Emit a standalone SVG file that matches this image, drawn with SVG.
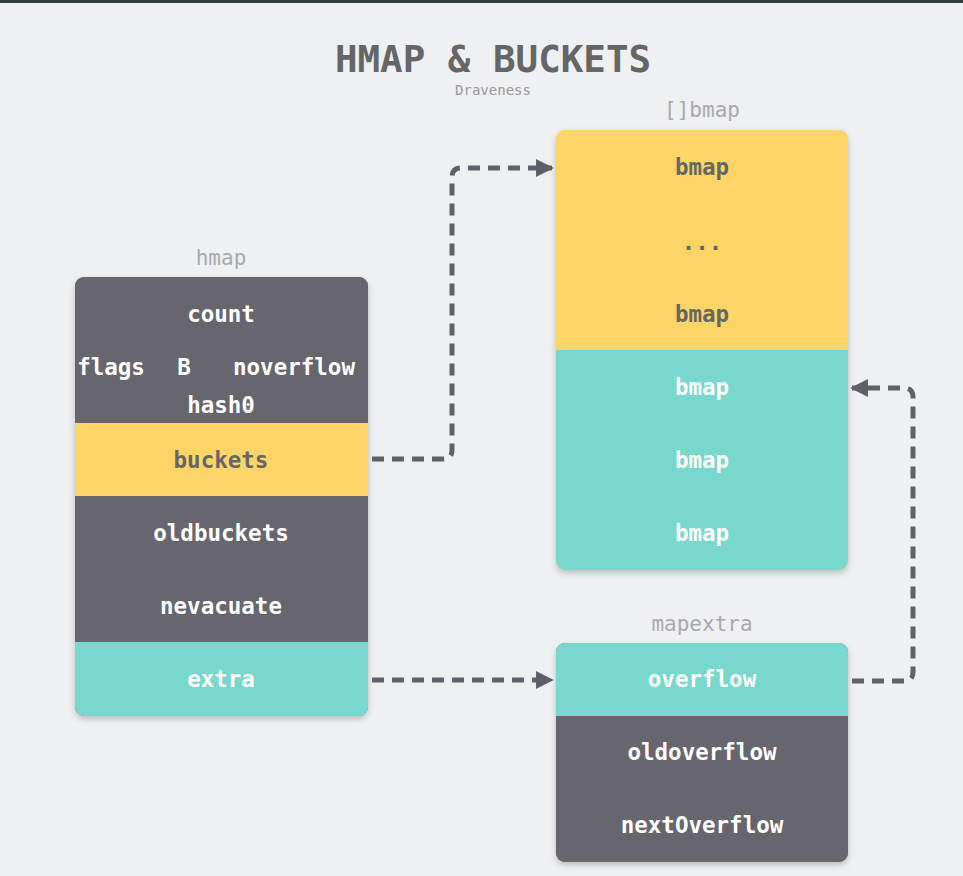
<svg xmlns="http://www.w3.org/2000/svg" width="963" height="876" viewBox="0 0 963 876">
<defs>
<style>
.t{font-family:"DejaVu Sans Mono","Liberation Mono",monospace;text-anchor:middle}
.f{font-size:22.5px;font-weight:bold}
.w{fill:#ffffff}
.d{fill:#666666}
.lbl{font-size:21px;fill:#a9a9ab}
.c{fill:none;stroke:#606068;stroke-width:5;stroke-dasharray:12 8}
</style>
<filter id="sh" x="-10%" y="-10%" width="120%" height="120%">
<feDropShadow dx="0" dy="3" stdDeviation="3" flood-color="#000" flood-opacity="0.22"/>
</filter>
<clipPath id="ch"><rect x="75" y="277" width="293" height="439" rx="9"/></clipPath>
<clipPath id="cb"><rect x="556" y="130" width="292" height="440" rx="9"/></clipPath>
<clipPath id="ce"><rect x="556" y="643" width="292" height="219" rx="9"/></clipPath>
<marker id="ah" viewBox="0 0 10 10" refX="9" refY="5" markerWidth="3.6" markerHeight="3.6" orient="auto" markerUnits="strokeWidth">
<path d="M0,0 L10,5 L0,10 z" fill="#606068"/>
</marker>
</defs>
<rect width="963" height="876" fill="#eff0f2"/>
<rect width="963" height="3" fill="#333d40"/>
<g id="title">
<text class="t" x="493" y="72" font-size="37.5" font-weight="bold" fill="#666666">HMAP &amp; BUCKETS</text>
<text class="t" x="493" y="95" font-size="14" fill="#9a9a9a">Draveness</text>
</g>
<g id="hmap">
<text class="t lbl" x="221" y="265">hmap</text>
<rect x="75" y="277" width="293" height="439" rx="9" fill="#67666f" filter="url(#sh)"/>
<g clip-path="url(#ch)">
<rect x="75" y="277" width="293" height="146" fill="#67666f"/>
<rect x="75" y="423" width="293" height="73" fill="#fcd566"/>
<rect x="75" y="496" width="293" height="146" fill="#67666f"/>
<rect x="75" y="642" width="293" height="74" fill="#78d8cb"/>
</g>
<text class="t f w" x="221" y="322">count</text>
<text class="t f w" x="111" y="375">flags</text>
<text class="t f w" x="184" y="375">B</text>
<text class="t f w" x="294" y="375">noverflow</text>
<text class="t f w" x="221" y="413">hash0</text>
<text class="t f d" x="221" y="468">buckets</text>
<text class="t f w" x="221" y="541">oldbuckets</text>
<text class="t f w" x="221" y="614">nevacuate</text>
<text class="t f w" x="221" y="687">extra</text>
</g>
<g id="bmaps">
<text class="t lbl" x="702" y="117">[]bmap</text>
<rect x="556" y="130" width="292" height="440" rx="9" fill="#fcd566" filter="url(#sh)"/>
<g clip-path="url(#cb)">
<rect x="556" y="130" width="292" height="220" fill="#fcd566"/>
<rect x="556" y="350" width="292" height="220" fill="#78d8cb"/>
</g>
<text class="t f d" x="702" y="175">bmap</text>
<text class="t f d" x="702" y="250">...</text>
<text class="t f d" x="702" y="322">bmap</text>
<text class="t f w" x="702" y="395">bmap</text>
<text class="t f w" x="702" y="468">bmap</text>
<text class="t f w" x="702" y="541">bmap</text>
</g>
<g id="mapextra">
<text class="t lbl" x="702" y="631">mapextra</text>
<rect x="556" y="643" width="292" height="219" rx="9" fill="#67666f" filter="url(#sh)"/>
<g clip-path="url(#ce)">
<rect x="556" y="643" width="292" height="73" fill="#78d8cb"/>
<rect x="556" y="716" width="292" height="146" fill="#67666f"/>
</g>
<text class="t f w" x="702" y="687">overflow</text>
<text class="t f w" x="702" y="760">oldoverflow</text>
<text class="t f w" x="702" y="833">nextOverflow</text>
</g>
<g id="connectors">
<path class="c" d="M372,459 H443 Q452,459 452,450 V177 Q452,168 461,168 H552" marker-end="url(#ah)"/>
<path class="c" d="M372,680 H552" marker-end="url(#ah)"/>
<path class="c" d="M852,681 H904 Q913,681 913,672 V397 Q913,388 904,388 H852" marker-end="url(#ah)"/>
</g>
</svg>
